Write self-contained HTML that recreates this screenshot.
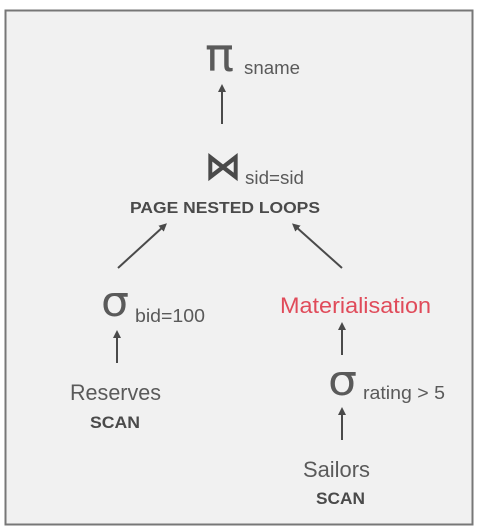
<!DOCTYPE html>
<html><head><meta charset="utf-8"><style>
html,body{margin:0;padding:0;background:#fff;}
svg{display:block;}
text{font-family:"Liberation Sans","DejaVu Sans",sans-serif;fill:#5a5a5a;}
.b{font-weight:bold;fill:#4a4a4a;}
</style></head><body>
<svg width="481" height="531" viewBox="0 0 481 531">
<defs><marker id="a" markerWidth="8" markerHeight="8" refX="4" refY="4" orient="auto" markerUnits="userSpaceOnUse"><path d="M0,0 L8,4 L0,8 z" fill="#4a4a4a"/></marker></defs>
<rect x="5.5" y="10.5" width="467" height="514" fill="#f1f1f1" stroke="#777" stroke-width="2"/>
<text x="205" y="71" font-size="46" style="font-family:'DejaVu Sans',sans-serif" fill="#4a4a4a" textLength="29" lengthAdjust="spacingAndGlyphs">π</text>
<text x="244" y="74" font-size="18" textLength="56" lengthAdjust="spacingAndGlyphs">sname</text>
<line x1="222" y1="124" x2="222" y2="88" stroke="#4a4a4a" stroke-width="2" marker-end="url(#a)"/>
<text x="205" y="179" font-size="38" style="font-family:'DejaVu Sans',sans-serif;fill:#4a4a4a;stroke:#4a4a4a;stroke-width:1" textLength="36" lengthAdjust="spacingAndGlyphs">⋈</text>
<text x="245" y="184" font-size="18" textLength="59" lengthAdjust="spacingAndGlyphs">sid=sid</text>
<text x="130" y="213" font-size="16" class="b" textLength="190" lengthAdjust="spacingAndGlyphs">PAGE NESTED LOOPS</text>
<line x1="118" y1="268" x2="164" y2="226" stroke="#4a4a4a" stroke-width="2" marker-end="url(#a)"/>
<line x1="342" y1="268" x2="295" y2="226" stroke="#4a4a4a" stroke-width="2" marker-end="url(#a)"/>
<text x="101" y="316" font-size="42" style="font-family:'DejaVu Sans',sans-serif" fill="#4a4a4a" textLength="28" lengthAdjust="spacingAndGlyphs">σ</text>
<text x="135" y="322" font-size="18" textLength="70" lengthAdjust="spacingAndGlyphs">bid=100</text>
<line x1="117" y1="363" x2="117" y2="334" stroke="#4a4a4a" stroke-width="2" marker-end="url(#a)"/>
<text x="70" y="400" font-size="22" textLength="91" lengthAdjust="spacingAndGlyphs">Reserves</text>
<text x="90" y="428" font-size="17" class="b" textLength="50" lengthAdjust="spacingAndGlyphs">SCAN</text>
<text x="280" y="313" font-size="22" style="fill:#e04b5a" textLength="151" lengthAdjust="spacingAndGlyphs">Materialisation</text>
<line x1="342" y1="355" x2="342" y2="326" stroke="#4a4a4a" stroke-width="2" marker-end="url(#a)"/>
<text x="328" y="395" font-size="42" style="font-family:'DejaVu Sans',sans-serif" fill="#4a4a4a" textLength="29" lengthAdjust="spacingAndGlyphs">σ</text>
<text x="363" y="399" font-size="18" textLength="82" lengthAdjust="spacingAndGlyphs">rating &gt; 5</text>
<line x1="342" y1="440" x2="342" y2="411" stroke="#4a4a4a" stroke-width="2" marker-end="url(#a)"/>
<text x="303" y="477" font-size="22" textLength="67" lengthAdjust="spacingAndGlyphs">Sailors</text>
<text x="316" y="504" font-size="17" class="b" textLength="49" lengthAdjust="spacingAndGlyphs">SCAN</text>
</svg>
</body></html>
